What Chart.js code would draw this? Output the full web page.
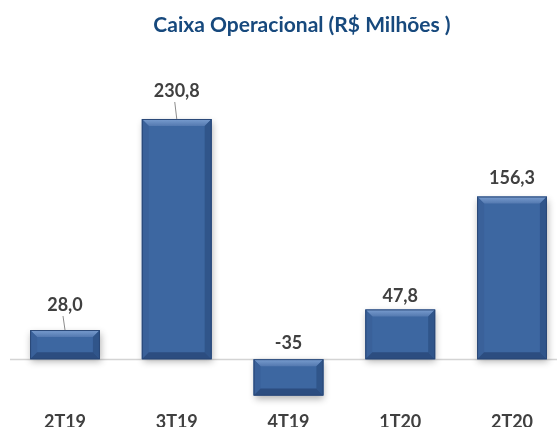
<!DOCTYPE html>
<html>
<head>
<meta charset="utf-8">
<script src="https://cdn.jsdelivr.net/npm/chart.js@4.4.1/dist/chart.umd.min.js"></script>
<style>
  html, body { margin: 0; padding: 0; background: #fff; }
  #wrap { width: 557px; height: 427px; }
</style>
</head>
<body>
<div id="wrap"><canvas id="caixaChart" width="557" height="427"></canvas></div>
<script>
// Chart data
const quarters = ["2T19", "3T19", "4T19", "1T20", "2T20"];
const caixaValues = [28.0, 230.8, -35, 47.8, 156.3];
const valueLabels = ["28,0", "230,8", "-35", "47,8", "156,3"];
const chartTitle = 'Caixa Operacional (R$ Milhões )';

// gap between bar end and its value label (px)
const labelGap = [25, 28, 16, 13, 18];

const FONT = "Lato, 'Open Sans', sans-serif";
const LABEL_COLOR = '#404040';

// Title, drawn a bit right of the plot centre like the original
const titleText = {
    id: 'titleText',
    afterDraw(chart) {
        const ctx = chart.ctx;
        ctx.save();
        ctx.fillStyle = '#17497d';
        ctx.font = "bold 21px " + FONT;
        ctx.textAlign = 'center';
        ctx.textBaseline = 'middle';
        ctx.fillText(chartTitle, 302, 25);
        ctx.restore();
    }
};

// Draw a grey zero line across the plot
const zeroLine = {
    id: 'zeroLine',
    beforeDatasetsDraw(chart) {
        const ctx = chart.ctx;
        const y = Math.round(chart.scales.y.getPixelForValue(0)) + 0.5;
        ctx.save();
        ctx.strokeStyle = '#d4d4d4';
        ctx.lineWidth = 1.5;
        ctx.beginPath();
        ctx.moveTo(10, y);
        ctx.lineTo(chart.width, y);
        ctx.stroke();
        ctx.restore();
    }
};

// Soft shadow under the bars
const barShadow = {
    id: 'barShadow',
    beforeDatasetDraw(chart) {
        const ctx = chart.ctx;
        ctx.save();
        ctx.shadowColor = 'rgba(0,0,0,0.3)';
        ctx.shadowBlur = 7;
        ctx.shadowOffsetX = 1;
        ctx.shadowOffsetY = 3;
    },
    afterDatasetDraw(chart) {
        chart.ctx.restore();
    }
};

// Bevel edges + value labels
const bevelAndLabels = {
    id: 'bevelAndLabels',
    afterDatasetsDraw(chart) {
        const ctx = chart.ctx;
        const meta = chart.getDatasetMeta(0);
        meta.data.forEach((bar, i) => {
            const l = bar.x - bar.width / 2;
            const r = bar.x + bar.width / 2;
            const t = Math.min(bar.y, bar.base);
            const b = Math.max(bar.y, bar.base);
            const s = 7;

            const poly = (pts, fill) => {
                ctx.beginPath();
                ctx.moveTo(pts[0][0], pts[0][1]);
                for (let k = 1; k < pts.length; k++) ctx.lineTo(pts[k][0], pts[k][1]);
                ctx.closePath();
                ctx.fillStyle = fill;
                ctx.fill();
            };

            ctx.save();
            // top bevel
            const gTop = ctx.createLinearGradient(0, t, 0, t + s);
            gTop.addColorStop(0, '#7a9ed0');
            gTop.addColorStop(1, '#5479b0');
            poly([[l, t], [r, t], [r - s, t + s], [l + s, t + s]], gTop);
            // left bevel
            poly([[l, t], [l + s, t + s], [l + s, b - s], [l, b]], '#3a619a');
            // right bevel
            poly([[r, t], [r - s, t + s], [r - s, b - s], [r, b]], '#30558a');
            // bottom bevel
            poly([[l, b], [l + s, b - s], [r - s, b - s], [r, b]], '#2c4d80');
            // outline
            ctx.strokeStyle = '#2a4877';
            ctx.lineWidth = 1;
            ctx.strokeRect(l + 0.5, t + 0.5, bar.width - 1, b - t - 1);

            // value label
            const ly = t - labelGap[i];
            ctx.fillStyle = LABEL_COLOR;
            ctx.font = "bold 18px " + FONT;
            ctx.textAlign = 'center';
            ctx.textBaseline = 'middle';
            ctx.fillText(valueLabels[i], bar.x, ly);

            // leader line when the label sits far off
            if (labelGap[i] > 20) {
                ctx.strokeStyle = '#8c8c8c';
                ctx.lineWidth = 1;
                ctx.beginPath();
                ctx.moveTo(bar.x - 2, ly + 11);
                ctx.lineTo(bar.x, t);
                ctx.stroke();
            }
            ctx.restore();
        });
    }
};

const ctx = document.getElementById('caixaChart').getContext('2d');

new Chart(ctx, {
    type: 'bar',
    data: {
        labels: quarters,
        datasets: [{
            data: caixaValues,
            backgroundColor: '#3d67a1',
            borderWidth: 0,
            categoryPercentage: 1,
            barPercentage: 0.625,
            clip: false
        }]
    },
    options: {
        responsive: false,
        animation: false,
        layout: { padding: { left: 65, right: 45, top: 99, bottom: 0 } },
        plugins: {
            legend: { display: false },
            tooltip: { enabled: false },
            title: { display: false }
        },
        scales: {
            x: {
                offset: false,
                grid: { display: false, drawTicks: false },
                border: { display: false },
                afterFit(scale) { scale.height = 21; },
                ticks: {
                    color: LABEL_COLOR,
                    font: { family: FONT, size: 18, weight: 'bold' },
                    padding: 5,
                    maxRotation: 0,
                    autoSkip: false
                }
            },
            y: {
                display: false,
                min: -45,
                max: 250
            }
        }
    },
    plugins: [zeroLine, barShadow, bevelAndLabels, titleText]
});
</script>
</body>
</html>
